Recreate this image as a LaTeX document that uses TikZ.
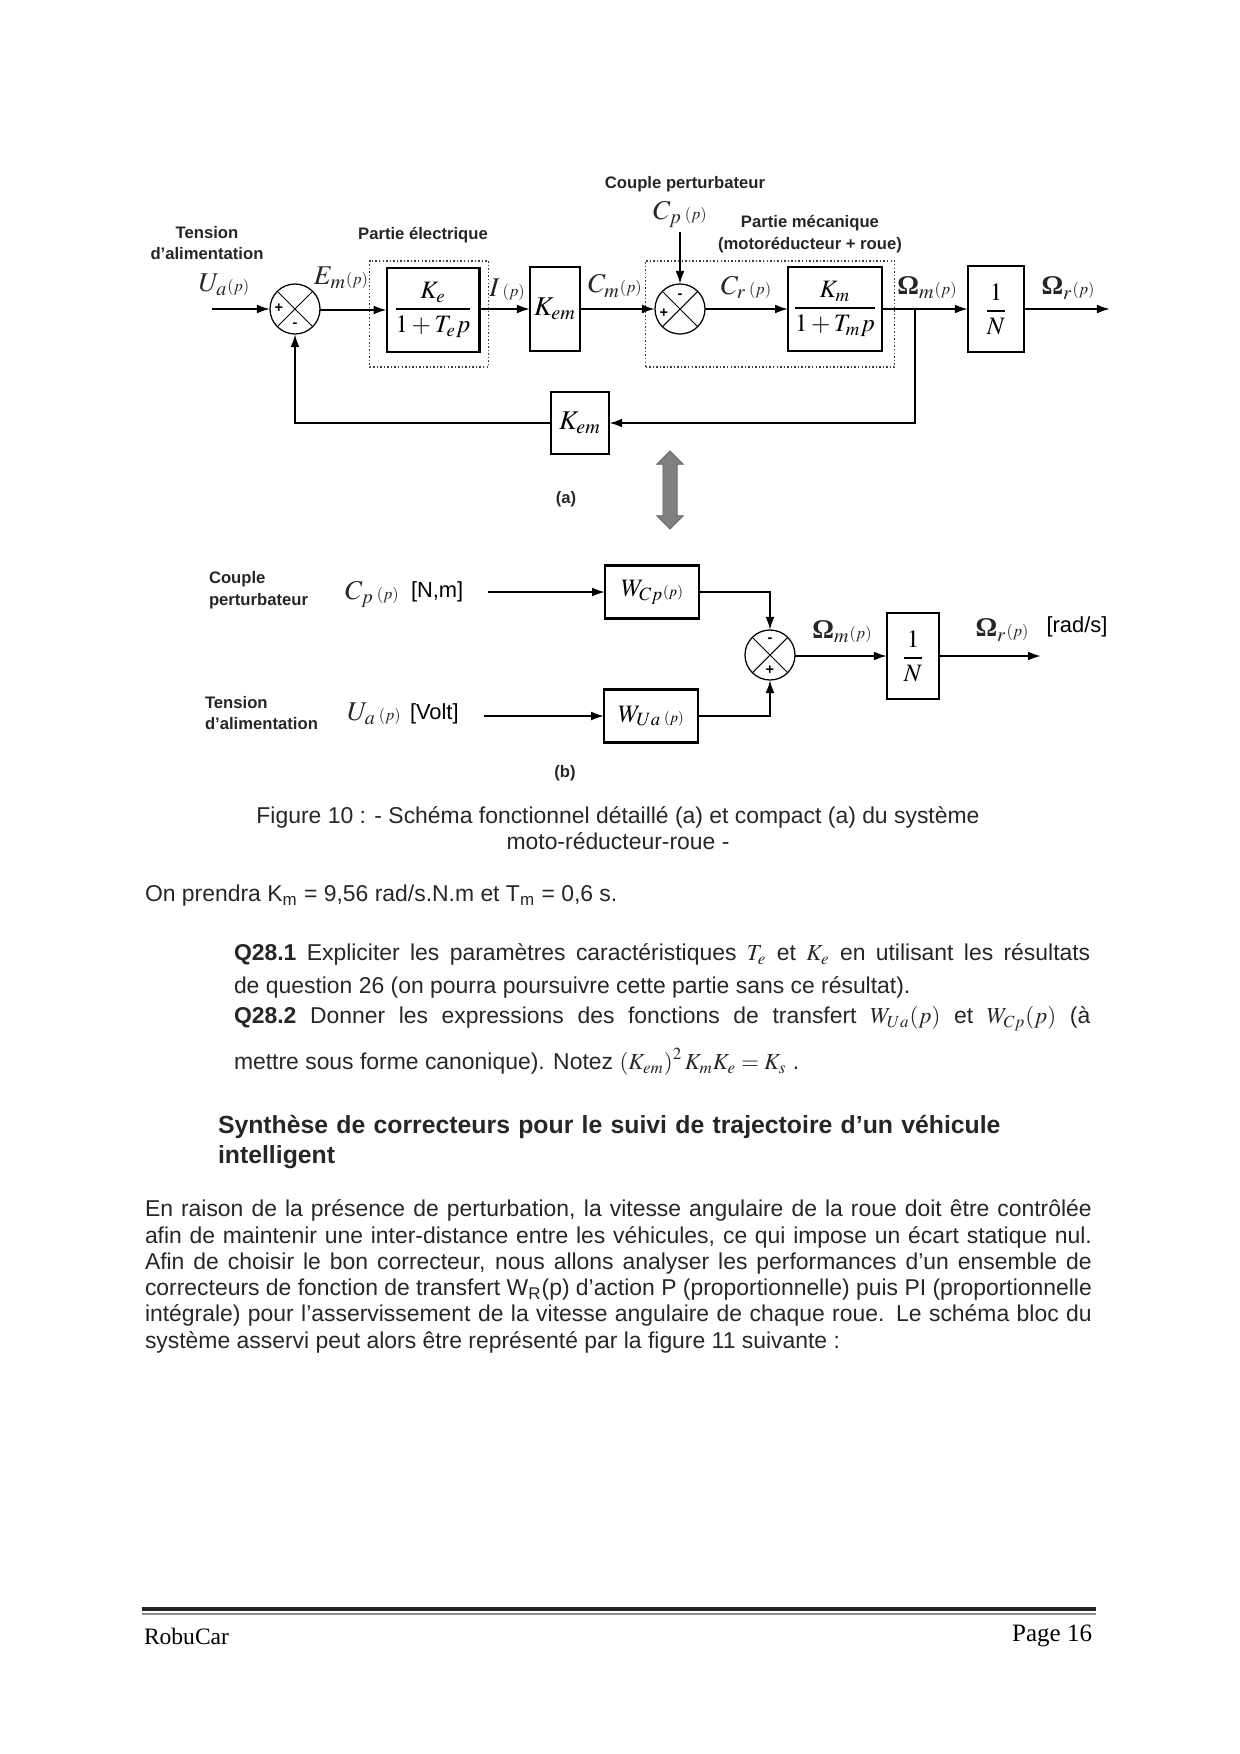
\documentclass[tikz,border=0pt]{standalone}
\usepackage{mathptmx}
\usepackage{amsmath,amssymb}
\usepackage[no-math]{fontspec}
\setmainfont{Liberation Sans}
\newfontfamily\footfont{Liberation Serif}
\usetikzlibrary{arrows.meta,shapes.arrows}
\newcommand{\argp}{{\scriptscriptstyle(p)}}
\newcommand{\boldom}{\mbox{\footfont\bfseries Ω}}
\newcommand{\blockfrac}[2]{\genfrac{}{}{0.9pt}{0}{#1}{#2}}

\begin{document}
\begin{tikzpicture}[x=0.48pt, y=-0.48pt, >={Latex[length=2.2mm,width=1.5mm]},
	every node/.style={inner sep=0pt, outer sep=0pt},
	block/.style={draw, line width=1.1pt, fill=white, align=center, font=\fontsize{12}{14}\selectfont},
	sumnode/.style={draw, circle, line width=0.6pt, fill=white, minimum size=24pt, path picture={
		\draw[line width=0.5pt] (path picture bounding box.north west) -- (path picture bounding box.south east);
		\draw[line width=0.5pt] (path picture bounding box.north east) -- (path picture bounding box.south west);}},
	signlab/.style={font=\bfseries\fontsize{7}{7}\selectfont},
	dashbox/.style={draw=black!75, densely dotted, line width=0.7pt},
	wire/.style={line width=1pt},
	head/.style={font=\bfseries\fontsize{8}{10.4}\selectfont, align=center, text=black!85},
	varlab/.style={font=\fontsize{13}{15}\selectfont, text=black!85},
	unitlab/.style={font=\fontsize{10.5}{12}\selectfont},
	bodytext/.style={anchor=north west, text width=454.5pt, align=justify},
	]
	\useasboundingbox (0,0) rectangle (1240,1754);

	% schema (a)
	\node[dashbox, minimum width=57pt, minimum height=51pt] (elecbox) at (429,314) {};
	\node[dashbox, minimum width=119.5pt, minimum height=51pt] (mecabox) at (770,314) {};
	\node[head] (tensiona) at (207,243) {Tension\\d'alimentation};
	\node[head] (elec) at (423,235) {Partie électrique};
	\node[head] (couplea) at (685,184) {Couple perturbateur};
	\node[head] (meca) at (810,234) {Partie mécanique\\(motoréducteur + roue)};
	\node[varlab] (ualab) at (224,285) {$U_a\argp$};
	\node[varlab] (emlab) at (341,278) {$E_m\argp$};
	\node[varlab] (ilab) at (507,290) {$I\,\argp$};
	\node[varlab] (cmlab) at (615,286) {$C_m\argp$};
	\node[varlab] (cplab) at (680,214) {$C_p\,\argp$};
	\node[varlab] (crlab) at (746,287) {$C_r\,\argp$};
	\node[varlab] (omlab) at (927,288) {$\boldom_m\argp$};
	\node[varlab] (orlab) at (1068,288) {$\boldom_r\argp$};
	\node[sumnode] (suma) at (295,309) {};
	\node[sumnode] (sumb) at (680,309) {};
	\node[signlab] (pa) at (279,308) {+};
	\node[signlab] (ma) at (295,325) {-};
	\node[signlab] (pb) at (664,313) {+};
	\node[signlab] (mb) at (680,296) {-};
	\node[block, minimum width=44.5pt, minimum height=40pt] (ke) at (433,310) {$\blockfrac{K_e}{1+T_e p}$};
	\node[block, font=\fontsize{13}{15}\selectfont, minimum width=24pt, minimum height=40pt] (kema) at (555,309) {$K_{em}$};
	\node[block, minimum width=45pt, minimum height=40pt] (km) at (835,309) {$\blockfrac{K_m}{1+T_m p}$};
	\node[block, minimum width=27pt, minimum height=41pt] (inva) at (996,309) {$\blockfrac{1}{N}$};
	\node[block, font=\fontsize{13}{15}\selectfont, minimum width=28pt, minimum height=30pt] (kemb) at (580,423) {$K_{em}$};
	\coordinate (ina) at (212,309);
	\coordinate (cpin) at (680,232);
	\coordinate (tap) at (915,309);
	\coordinate (outa) at (1110,309);
	\draw[->, wire] (ina) -- (suma.west);
	\draw[->, wire] (suma.east |- ke.west) -- (ke.west);
	\draw[->, wire] (ke.east |- kema.west) -- (kema.west);
	\draw[->, wire] (kema.east) -- (sumb.west);
	\draw[->, wire] (cpin) -- (sumb.north);
	\draw[->, wire] (sumb.east) -- (km.west);
	\draw[->, wire] (km.east) -- (inva.west);
	\draw[->, wire] (inva.east) -- (outa);
	\draw[->, wire] (tap) |- (kemb.east);
	\draw[->, wire] (kemb.west) -| (suma.south);
	\node[draw=black!60, fill=black!50, double arrow, rotate=90, inner sep=3.2pt, minimum height=37.5pt, double arrow head extend=3pt] (equiv) at (670,490) {};
	\node[head] (taga) at (566,499) {(a)};

	% schema (b)
	\node[head, align=left, anchor=west] (coupleb) at (209,590) {Couple\\perturbateur};
	\node[head, align=left, anchor=west] (tensionb) at (205,713) {Tension\\d'alimentation};
	\node[varlab] (cpb) at (372,594) {$C_p\,\argp$};
	\node[unitlab, anchor=west] (nm) at (411,592) {[N,m]};
	\node[varlab] (uab) at (374,714) {$U_a\,\argp$};
	\node[unitlab, anchor=west] (volt) at (410,714) {[Volt]};
	\node[block, minimum width=45pt, minimum height=25.5pt] (wcp) at (652,592) {$W_{Cp}\argp$};
	\node[block, minimum width=45pt, minimum height=25.5pt] (wua) at (651,716) {$W_{Ua}\,\argp$};
	\node[sumnode] (sumc) at (770,655) {};
	\node[signlab] (mc) at (770,640) {-};
	\node[signlab] (pc) at (770,670) {+};
	\node[block, minimum width=25pt, minimum height=41pt] (invb) at (913,656) {$\blockfrac{1}{N}$};
	\node[varlab] (omb) at (842,632) {$\boldom_m\argp$};
	\node[varlab] (orb) at (1002,630) {$\boldom_r\argp$};
	\node[unitlab] (rads) at (1077,627) {[rad/s]};
	\node[head] (tagb) at (565,773) {(b)};
	\coordinate (cpinb) at (488,592);
	\coordinate (uainb) at (484,716);
	\coordinate (outb) at (1041,656);
	\draw[->, wire] (cpinb) -- (wcp.west);
	\draw[->, wire] (uainb) -- (wua.west);
	\draw[->, wire] (wcp.east) -| (sumc.north);
	\draw[->, wire] (wua.east) -| (sumc.south);
	\draw[->, wire] (sumc.east |- invb.west) -- (invb.west);
	\draw[->, wire] (invb.east) -- (outb);

	% texte de la page
	\begin{scope}[every node/.append style={font=\fontsize{11}{12.6}\selectfont, text=black!85}]
		\node[align=center] (caption) at (618,828) {Figure 10 : - Schéma fonctionnel détaillé (a) et compact (a) du système\\moto-réducteur-roue -};
		\node[anchor=west] (prendra) at (145,896) {On prendra K\textsubscript{m} = 9,56 rad/s.N.m et T\textsubscript{m} = 0,6 s.};
		\node[anchor=west, text width=411pt, align=justify, font=\fontsize{11}{15.6}\selectfont] (qone) at (234,971) {\textbf{Q28.1} Expliciter les paramètres caractéristiques $T_e$ et $K_e$ en utilisant les résultats\linebreak de question 26 (on pourra poursuivre cette partie sans ce résultat).};
		\node[anchor=west, text width=411pt, align=justify, font=\fontsize{11}{22}\selectfont] (qtwo) at (234,1041) {\textbf{Q28.2} Donner les expressions des fonctions de transfert $W_{Ua}(p)$ et $W_{Cp}(p)$ (à\linebreak mettre sous forme canonique). Notez $\left(K_{em}\right)^2 K_m K_e = K_s$ .};
		\node[anchor=west, text width=430pt, align=left, font=\bfseries\fontsize{11.9}{14.5}\selectfont] (synth) at (218,1142) {Synthèse de correcteurs pour le suivi de trajectoire d'un véhicule\\intelligent};
		\node[bodytext] (para) at (145,1200) {En raison de la présence de perturbation, la vitesse angulaire de la roue doit être contrôlée\linebreak afin de maintenir une inter-distance entre les véhicules, ce qui impose un écart statique nul.\linebreak Afin de choisir le bon correcteur, nous allons analyser les performances d'un ensemble de\linebreak correcteurs de fonction de transfert W\textsubscript{R}(p) d'action P (proportionnelle) puis PI (proportionnelle\linebreak intégrale) pour l'asservissement de la vitesse angulaire de chaque roue. Le schéma bloc du\linebreak système asservi peut alors être représenté par la figure 11 suivante :};
	\end{scope}

	% pied de page
	\coordinate (footl) at (142,1609);
	\coordinate (footr) at (1096,1609);
	\coordinate (footlb) at (142,1614);
	\coordinate (footrb) at (1096,1614);
	\draw[line width=2pt, black!85] (footl) -- (footr);
	\draw[line width=1.2pt, black!45] (footlb) -- (footrb);
	\node[anchor=west, font=\footfont\fontsize{11.3}{13}\selectfont] (robucar) at (144,1636) {RobuCar};
	\node[anchor=east, font=\footfont\fontsize{12}{13}\selectfont] (page) at (1092,1636) {Page 16};
\end{tikzpicture}
\end{document}
